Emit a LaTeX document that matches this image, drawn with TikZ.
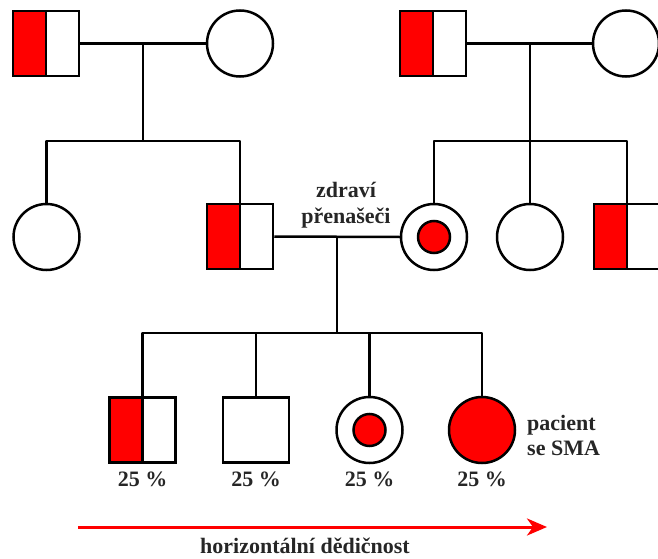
\documentclass[tikz,border=0pt]{standalone}
\usepackage{fontspec}
\setmainfont{Liberation Serif}
\usetikzlibrary{arrows.meta}
\definecolor{affred}{RGB}{255,0,0}
\definecolor{txtgray}{RGB}{38,38,38}
\tikzset{
  pline/.style={line width=2.5pt, line join=round, draw=black},
  male/.style={rectangle, draw=black, line width=2.5pt, fill=white,
    minimum width=66pt, minimum height=65pt, inner sep=0pt},
  carriermale/.style={male, path picture={
      \fill[affred] (path picture bounding box.south west) rectangle
        (path picture bounding box.north);
      \draw[line width=2.5pt] (path picture bounding box.south) --
        (path picture bounding box.north);}},
  female/.style={circle, draw=black, line width=2.5pt, fill=white,
    minimum size=66pt, inner sep=0pt},
  carrierfemale/.style={female, path picture={
      \draw[line width=2.5pt, fill=affred] (path picture bounding box.center) circle (16pt);}},
  affected/.style={female, fill=affred},
  lbl/.style={font=\bfseries\fontsize{22}{24}\selectfont, text=txtgray, anchor=base, inner sep=0pt},
}
\begin{document}
\begin{tikzpicture}[x=1pt, y=-1pt]
\useasboundingbox (0,0) rectangle (658,559);

% generation I
\node[carriermale] (m1) at (46,43.5) {};
\node[female] (f1) at (240,43.5) {};
\node[carriermale] (m2) at (433,43.5) {};
\node[female] (f2) at (626,43.5) {};

% generation II
\node[female] (c1) at (46.5,237) {};
\node[carriermale] (c2) at (240,236.5) {};
\node[carrierfemale] (c3) at (434,237) {};
\node[female] (c4) at (530,237) {};
\node[carriermale] (c5) at (627,236.5) {};

% generation III
\node[carriermale] (g1) at (142.5,430) {};
\node[male] (g2) at (256,430) {};
\node[carrierfemale] (g3) at (369.5,430) {};
\node[affected] (g4) at (482,430) {};

% junction points
\coordinate (j1) at (143,43.5);
\coordinate (s1) at (143,141);
\coordinate (j2) at (530,43.5);
\coordinate (s2) at (530,141);
\coordinate (j3) at (337,237);
\coordinate (s3) at (337,333);

% first family
\draw[pline] (m1.east) -- (f1.west);
\draw[pline] (j1) -- (s1);
\draw[pline] (c1.north) |- (s1) -| (c2.north);

% second family
\draw[pline] (m2.east) -- (f2.west);
\draw[pline] (j2) -- (s2);
\draw[pline] (c3.north) |- (s2) -| (c5.north);
\draw[pline] (s2) -- (c4.north);

% carriers' couple and their children
\draw[pline] (c2.east) -- (c3.west);
\draw[pline] (j3) -- (s3);
\draw[pline] (g1.north) |- (s3) -| (g4.north);
\draw[pline] (g2.north) -- (g2.north |- s3);
\draw[pline] (g3.north) -- (g3.north |- s3);

% labels
\node[lbl] (t1) at (346,197) {zdraví};
\node[lbl] (t2) at (346,223) {přenašeči};
\node[lbl, anchor=base west] (t3) at (527,430) {pacient};
\node[lbl, anchor=base west] (t4) at (527,455) {se SMA};
\node[lbl] (p1) at (142.5,486) {25 \%};
\node[lbl] (p2) at (256,486) {25 \%};
\node[lbl] (p3) at (369.5,486) {25 \%};
\node[lbl] (p4) at (482,486) {25 \%};

% direction arrow
\coordinate (a0) at (78,527);
\coordinate (a1) at (547,527);
\draw[draw=affred, line width=3pt, -{Stealth[length=20pt, width=17pt, inset=6pt]}] (a0) -- (a1);
\node[lbl] (t5) at (305,553) {horizontální dědičnost};
\end{tikzpicture}
\end{document}
